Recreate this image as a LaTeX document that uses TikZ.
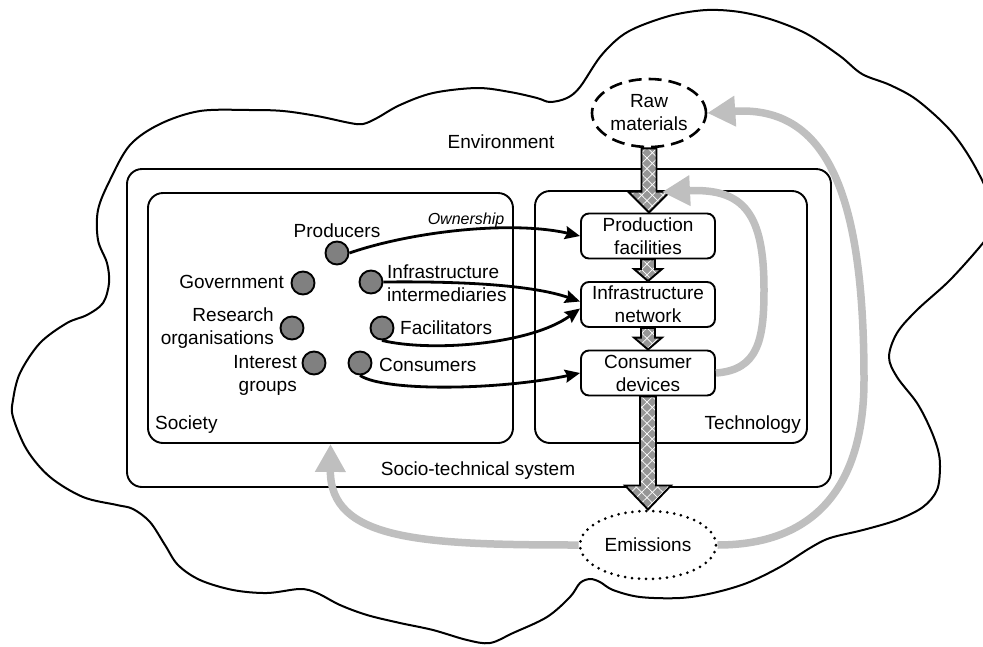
\documentclass[tikz,border=0pt]{standalone}
\usepackage{fontspec}
\setmainfont{Liberation Sans}
\usetikzlibrary{arrows.meta,patterns.meta,shapes.geometric,calc}
\definecolor{flowgray}{HTML}{BFBFBF}
\definecolor{actorgray}{HTML}{808080}
\definecolor{blockgray}{HTML}{969696}
\newcommand\blockarrow[5]{%
  \path[blockfill] let \p1=(#1), \p2=(#2) in
    (\x1-#3,\y1) -- (\x1+#3,\y1) -- (\x1+#3,\y2+#5) -- (\x1+#4,\y2+#5) --
    (\x1,\y2) -- (\x1-#4,\y2+#5) -- (\x1-#3,\y2+#5) -- cycle;}
\begin{document}
\begin{tikzpicture}[x=1pt,y=-1pt,
  every node/.style={font=\fontsize{19}{23}\selectfont},
  frame/.style={draw, line width=1.9pt, rounded corners=15pt},
  techbox/.style={draw, fill=white, line width=1.9pt, rounded corners=8pt,
    minimum width=134pt, minimum height=45pt, align=center, inner sep=0pt},
  actor/.style={circle, draw, fill=actorgray, line width=1.9pt,
    minimum size=23pt, inner sep=0pt},
  lbl/.style={inner sep=0pt},
  conn/.style={line width=2.8pt, -{Stealth[length=15pt,width=13pt,inset=2pt]}},
  flow/.style={draw=flowgray, line width=7.5pt, -{Triangle[length=28pt,width=29pt]}},
  blockfill/.style={fill=blockgray,
    postaction={pattern={Lines[angle=45,distance=7.5pt,line width=0.7pt]},pattern color=white},
    postaction={pattern={Lines[angle=-45,distance=7.5pt,line width=0.7pt]},pattern color=white},
    postaction={draw=black,line width=1.9pt}},
]
\useasboundingbox (0,0) rectangle (983,646);
\clip (0,0) rectangle (983,646);

% environment cloud
\draw[line width=2pt] plot[smooth cycle, tension=0.55] coordinates {
(13,417) (13,400) (20,373) (40,343) (67,323) (87,315) (103,303) (109,283)
(107,263) (98,240) (98,210) (110,180) (130,145) (160,124) (200,111) (250,110)
(283,111) (317,116) (350,123) (363,124) (377,118) (400,105) (433,93) (477,88)
(510,92) (537,98) (550,102) (567,98) (580,87) (600,57) (620,37) (640,26)
(673,15) (707,10) (740,12) (773,20) (807,34) (840,56) (862,74) (890,85)
(917,100) (950,130) (973,163) (990,200) (990,230) (983,243) (950,280) (917,310)
(897,333) (889,357) (897,377) (917,403) (930,428) (938,450) (940,467) (937,490)
(923,507) (897,520) (863,530) (830,538) (810,548) (780,567) (747,583) (713,593)
(680,598) (640,597) (613,590) (600,582) (590,579) (580,583) (570,597) (547,617)
(513,633) (490,643) (467,640) (433,630) (400,623) (367,615) (340,605) (317,593)
(300,589) (267,593) (233,590) (200,580) (178,565) (165,545) (150,522) (133,509)
(117,505) (83,497) (50,477) (27,450)};

% containers
\node[frame, minimum width=704pt, minimum height=318pt] (socio) at (479,328) {};
\node[frame, minimum width=365pt, minimum height=250pt] (society) at (330.5,318) {};
\node[frame, minimum width=272pt, minimum height=252pt] (tech) at (671,317) {};

\node[lbl, anchor=west] (societylbl) at (155,425) {Society};
\node[lbl, anchor=east] (techlbl) at (801,424.5) {Technology};
\node[lbl] (stslbl) at (478,471) {Socio-technical system};
\node[lbl] (envlbl) at (501,142) {Environment};

% raw materials and emissions
\node[ellipse, draw, fill=white, dash pattern=on 13pt off 7pt, line width=2.6pt,
  minimum width=114pt, minimum height=68pt, align=center, inner sep=0pt]
  (raw) at (649,113) {Raw\\materials};
\node[ellipse, draw, fill=white, line width=3pt, dash pattern=on 0pt off 7pt,
  line cap=round, minimum width=136pt, minimum height=68pt, inner sep=0pt]
  (emis) at (648,545) {Emissions};

% technology boxes
\node[techbox] (prod) at (648,236) {Production\\facilities};
\node[techbox] (infra) at (648,304.5) {Infrastructure\\network};
\node[techbox] (cons) at (648,373) {Consumer\\devices};

% actors
\node[actor] (dProd) at (337,253) {};
\node[actor] (dGov) at (303,283) {};
\node[actor] (dInt) at (371,282) {};
\node[actor] (dRes) at (292,328) {};
\node[actor] (dFac) at (382,328) {};
\node[actor] (dIntg) at (314,363) {};
\node[actor] (dCons) at (360,363) {};

\node[lbl] (lProd) at (337,231) {Producers};
\node[lbl, anchor=east] (lGov) at (284,282) {Government};
\node[lbl, anchor=west, align=left] (lInt) at (387,283) {Infrastructure\\intermediaries};
\node[lbl, anchor=east, align=right] (lRes) at (274,328) {Research\\organisations};
\node[lbl, anchor=west] (lFac) at (400,328) {Facilitators};
\node[lbl, anchor=east, align=right] (lIntg) at (297,375) {Interest\\groups};
\node[lbl, anchor=west] (lCons) at (379,365) {Consumers};
\node[lbl, font=\fontsize{16}{19}\selectfont\itshape] (own) at (466,220) {Ownership};

% actor connectors
\draw[conn] (dProd.east) .. controls (410,232) and (510,220) .. (prod.west);
\draw[conn] (dInt.east) .. controls (470,281) and (535,286) .. ([yshift=3pt]infra.west);
\draw[conn] (dFac.south) .. controls (430,352) and (530,345) .. ([yshift=-4pt]infra.west);
\draw[conn] (dCons.south) .. controls (385,392) and (500,390) .. (cons.west);

% material flow block arrows
\blockarrow{raw.south}{prod.north}{7.5pt}{21pt}{21pt}
\blockarrow{prod.south}{infra.north}{7pt}{14pt}{12pt}
\blockarrow{infra.south}{cons.north}{7pt}{14pt}{12pt}
\blockarrow{cons.south}{emis.north}{8pt}{23pt}{24pt}

% feedback flows
\coordinate (g1end) at (662,192);
\draw[flow] (cons.east) .. controls (758,370) and (764,340) .. (764,290)
  .. controls (764,215) and (745,188) .. (g1end);
\draw[flow] (emis.east) .. controls (820,545) and (864,480) .. (864,380)
  .. controls (864,200) and (830,105) .. (raw.east);
\draw[flow] (emis.west) .. controls (420,545) and (330,540) .. (society.south);
\end{tikzpicture}
\end{document}
